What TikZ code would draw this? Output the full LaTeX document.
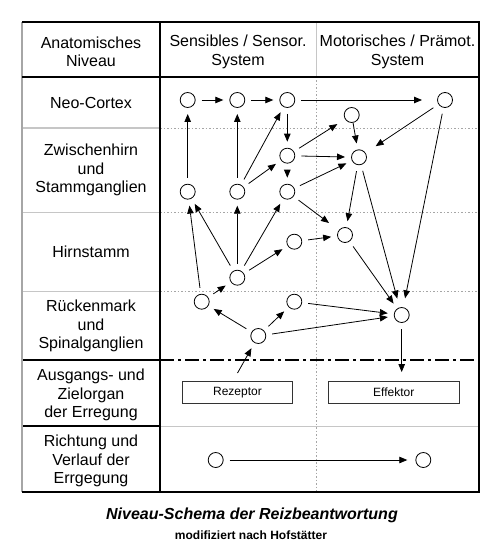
\documentclass[tikz,border=0pt]{standalone}
\usepackage{fontspec}
\setmainfont{Liberation Sans}
\usetikzlibrary{arrows.meta}
\begin{document}
\begin{tikzpicture}[x=1pt,y=-1pt,
  nd/.style={circle, draw, line width=0.8pt, minimum size=15pt, inner sep=0pt, outer sep=6.5pt},
  ar/.style={-{Triangle[length=8pt,width=6.5pt]}, line width=0.8pt},
  lbl/.style={align=center, font=\fontsize{16}{18.5}\selectfont, inner sep=0pt},
  orgbox/.style={draw, line width=0.8pt, draw=black!80, minimum height=22.3pt, inner sep=0pt, font=\fontsize{12}{14}\selectfont, outer sep=8pt},
  grid/.style={gray!70, line width=0.7pt, dash pattern=on 1.5pt off 2pt},
  thin/.style={gray!45, line width=1pt}
]
\useasboundingbox (0,0) rectangle (500,559);

% --- table lines ---
\draw[grid] (160,128) -- (479,128);
\draw[grid] (160,212) -- (479,212);
\draw[grid] (160,291) -- (479,291);
\draw[grid] (316,77) -- (316,492);
\draw[thin] (316,22) -- (316,77);
\draw[thin] (160,426) -- (479,426);
\draw[thin] (22,128) -- (160,128);
\draw[thin] (22,212) -- (160,212);
\draw[thin] (22,291) -- (160,291);
\draw[line width=1.6pt] (22,360) -- (160,360);
\draw[line width=1.6pt] (22,426) -- (160,426);
\draw[line width=1.5pt, dash pattern=on 14pt off 4pt on 3pt off 4pt] (160,360) -- (479,360);
\draw[gray!70, line width=1.2pt] (22,22) -- (22,492);
\draw[line width=2pt] (22,22) -- (479,22) -- (479,492) -- (22,492);
\draw[line width=2.5pt] (22,77) -- (479,77);
\draw[line width=2.5pt] (160,22) -- (160,492);

% --- labels ---
\node[lbl] (h0) at (91,52) {Anatomisches\\Niveau};
\node[lbl] (h1l) at (238,52) {Sensibles / Sensor.\\System};
\node[lbl] (h2l) at (397.5,52) {Motorisches / Prämot.\\System};
\node[lbl] (l1) at (91,103) {Neo-Cortex};
\node[lbl] (l2) at (91,170) {Zwischenhirn\\und\\Stammganglien};
\node[lbl] (l3) at (91,252) {Hirnstamm};
\node[lbl] (l4) at (91,326) {Rückenmark\\und\\Spinalganglien};
\node[lbl] (l5) at (91,395) {Ausgangs- und\\Zielorgan\\der Erregung};
\node[lbl] (l6) at (91,461) {Richtung und\\Verlauf der\\Errgegung};

% --- circles ---
\node[nd] (n1) at (187.7,100) {};
\node[nd] (n2) at (237.3,100) {};
\node[nd] (n3) at (287.3,100) {};
\node[nd] (n4) at (445,100) {};
\node[nd] (n5) at (351.7,115) {};
\node[nd] (z1) at (287.3,155.7) {};
\node[nd] (z2) at (359,157.3) {};
\node[nd] (s1) at (187.7,191.7) {};
\node[nd] (s2) at (237.3,191.7) {};
\node[nd] (s3) at (287.3,191.7) {};
\node[nd] (h1) at (345,235) {};
\node[nd] (h2) at (294.3,241.7) {};
\node[nd] (h3) at (237.3,277.7) {};
\node[nd] (r1) at (201.7,301.7) {};
\node[nd] (r2) at (294.3,301.7) {};
\node[nd] (r3) at (401.7,315) {};
\node[nd] (r4) at (258.3,336) {};
\node[nd] (d1) at (215.7,460) {};
\node[nd] (d2) at (423.3,460) {};

\node[orgbox, minimum width=109.6pt] (rez) at (237.5,392.2) {Rezeptor};
\node[orgbox, minimum width=131pt, outer sep=9pt] (eff) at (393.8,392.2) {Effektor};

% --- connectors ---
\draw[ar] (n1) -- (n2);
\draw[ar] (n2) -- (n3);
\draw[ar, shorten >=9pt] (n3) -- (n4);
\draw[ar] (s1) -- (n1);
\draw[ar] (s2) -- (n2);
\draw[ar] (s2) -- (n3);
\draw[ar] (n3) -- (z1);
\draw[ar, shorten >=3pt] (z1) -- (n5);
\draw[ar, shorten <=-6pt] (n5) -- (z2);
\draw[ar, shorten >=6pt] (n4) -- (z2);
\draw[ar] (z1) -- (z2);
\draw[ar] (z1) -- (s3);
\draw[ar] (s2) -- (z1);
\draw[ar] (s3) -- (z2);
\draw[ar, shorten >=6pt] (s3) -- (h1);
\draw[ar] (z2) -- (h1);
\draw[ar, shorten >=3pt] (z2) -- (r3);
\draw[ar, shorten >=3pt] (n4) -- (r3);
\draw[ar] (r1) -- (s1);
\draw[ar] (h3) -- (s1);
\draw[ar] (h3) -- (s2);
\draw[ar] (h3) -- (s3);
\draw[ar] (h3) -- (h2);
\draw[ar] (h2) -- (h1);
\draw[ar] (r1) -- (h3);
\draw[ar] (h1) -- (r3);
\draw[ar] (r4) -- (r1);
\draw[ar] (r4) -- (r2);
\draw[ar] (r2) -- (r3);
\draw[ar] (r4) -- (r3);
\draw[ar] (rez.north) -- (r4);
\draw[ar] (r3) -- (r3 |- eff.north);
\draw[ar, shorten >=2pt] (d1) -- (d2);

% --- caption ---
\node[font=\fontsize{16}{18}\selectfont\bfseries\itshape, inner sep=0pt] (cap) at (252,515) {Niveau-Schema der Reizbeantwortung};
\node[font=\fontsize{12}{14}\selectfont\bfseries, inner sep=0pt] (sub) at (251,535) {modifiziert nach Hofstätter};
\end{tikzpicture}
\end{document}
